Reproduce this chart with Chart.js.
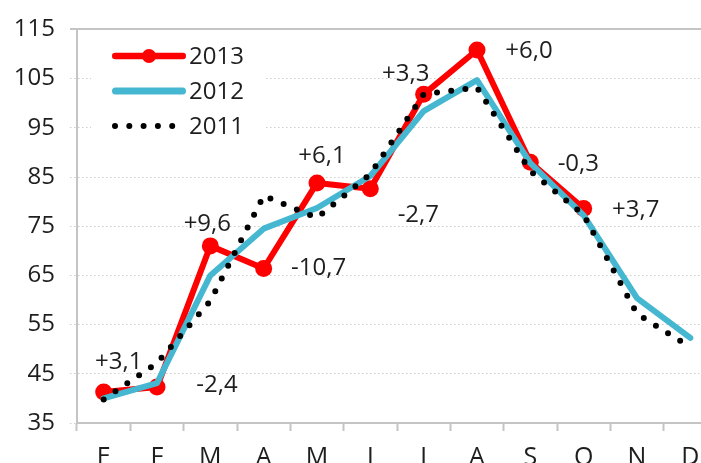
<!DOCTYPE html>
<html>
<head>
<meta charset="utf-8">
<script src="https://cdn.jsdelivr.net/npm/chart.js@4"></script>
<style>
  html, body { margin: 0; padding: 0; background: #fff; overflow: hidden; }
  #wrap { width: 730px; height: 480px; }
</style>
</head>
<body>
<div id="wrap"><canvas id="chart" width="730" height="480"></canvas></div>
<script>
/* ===============================
   DATA
================================ */
const months = ["E", "F", "M", "A", "M", "J", "J", "A", "S", "O", "N", "D"];
const y2013 = [41.3, 42.3, 71.0, 66.4, 83.8, 82.6, 101.8, 110.8, 88.0, 78.6];
const y2012 = [40.0, 43.1, 65.0, 74.5, 78.7, 85.2, 98.4, 104.7, 87.8, 77.2, 60.4, 52.3];
const y2011 = [39.8, 47.2, 59.8, 81.2, 76.7, 85.6, 101.8, 103.2, 86.2, 77.3, 57.2, 50.4];
const changes = ["+3,1", "-2,4", "+9,6", "-10,7", "+6,1", "-2,7", "+3,3", "+6,0", "-0,3", "+3,7"];
const yMin = 35, yMax = 115, yStep = 10;

// where each change label sits, relative to its 2013 point (px)
const labelOffsets = [[15, -30], [60, -2], [-3, -22], [55, 0], [5, -27],
                      [48, 26], [-18, -20], [52, 1], [48, 2], [52, 2]];

const FONT = "'Open Sans', 'Noto Sans', sans-serif";
const TEXT = "#1e1e1e";
const RED = "#ff0000";
const CYAN = "#46b7d0";
const DOTS = [0, 14.3];

/* ===============================
   PLUGINS
================================ */
const changeLabels = {
    id: "changeLabels",
    afterDatasetsDraw(chart) {
        const pts = chart.getDatasetMeta(0).data;
        const ctx = chart.ctx;
        ctx.save();
        ctx.font = "24px " + FONT;
        ctx.fillStyle = TEXT;
        ctx.textAlign = "center";
        ctx.textBaseline = "middle";
        changes.forEach((txt, i) => {
            const p = pts[i];
            if (!p) return;
            ctx.fillText(txt, p.x + labelOffsets[i][0], p.y + labelOffsets[i][1]);
        });
        ctx.restore();
    }
};

const boxLegend = {
    id: "boxLegend",
    beforeDatasetsDraw(chart) {
        const ctx = chart.ctx;
        ctx.save();
        ctx.fillStyle = "#fff";
        ctx.fillRect(91, 30, 174, 114);
        const rows = [56, 91, 126];
        chart.data.datasets.forEach((ds, i) => {
            const y = rows[i];
            ctx.beginPath();
            ctx.lineCap = "round";
            ctx.strokeStyle = ds.borderColor;
            ctx.lineWidth = ds.legendWidth;
            ctx.setLineDash(ds.borderDash || []);
            if (ds.borderDash) {
                ctx.moveTo(115, y);
                ctx.lineTo(174, y);
            } else {
                // round caps add half the width at each end
                ctx.moveTo(112 + ds.legendWidth / 2, y);
                ctx.lineTo(186 - ds.legendWidth / 2, y);
            }
            ctx.stroke();
            ctx.setLineDash([]);
            if (ds.pointRadius > 0) {
                ctx.beginPath();
                ctx.fillStyle = ds.pointBackgroundColor;
                ctx.arc(149, y, 7, 0, Math.PI * 2);
                ctx.fill();
            }
            ctx.font = "24px " + FONT;
            ctx.fillStyle = TEXT;
            ctx.textAlign = "left";
            ctx.textBaseline = "middle";
            ctx.fillText(ds.label, 189, y + 1);
        });
        ctx.restore();
    }
};

/* ===============================
   CHART
================================ */
const H = 480;
new Chart(document.getElementById("chart"), {
    type: "line",
    data: {
        labels: months,
        datasets: [
            {
                label: "2013",
                data: y2013,
                borderColor: RED,
                backgroundColor: RED,
                pointBackgroundColor: RED,
                pointBorderColor: RED,
                pointRadius: 8.5,
                pointBorderWidth: 0,
                borderWidth: 6,
                borderJoinStyle: "round",
                legendWidth: 6.5,
                order: 3
            },
            {
                label: "2012",
                data: y2012,
                borderColor: CYAN,
                backgroundColor: CYAN,
                pointRadius: 0,
                borderWidth: 6,
                borderJoinStyle: "round",
                borderCapStyle: "round",
                legendWidth: 7,
                order: 2
            },
            {
                label: "2011",
                data: y2011,
                borderColor: "#000",
                backgroundColor: "#000",
                pointRadius: 0,
                borderWidth: 6,
                borderDash: DOTS,
                borderCapStyle: "round",
                legendWidth: 6,
                order: 1
            }
        ]
    },
    options: {
        responsive: false,
        animation: false,
        devicePixelRatio: 1,
        layout: { padding: { left: 0, right: 13, top: 24, bottom: 0 } },
        plugins: { legend: { display: false }, tooltip: { enabled: false } },
        elements: { line: { tension: 0 } },
        scales: {
            x: {
                offset: true,
                grid: {
                    offset: true,
                    drawOnChartArea: false,
                    drawTicks: true,
                    tickLength: 8,
                    tickColor: "#c4c4c4",
                    tickWidth: 2
                },
                border: { color: "#c4c4c4", width: 2 },
                ticks: {
                    color: TEXT,
                    font: { family: FONT, size: 25 },
                    padding: 12,
                    maxRotation: 0,
                    autoSkip: false
                },
                afterFit(scale) { scale.height = H - 423; }
            },
            y: {
                min: yMin,
                max: yMax,
                grid: {
                    color: (c) => c.tick && c.tick.value === yMax ? "#c4c4c4" : "#cfcfcf",
                    lineWidth: (c) => c.tick && c.tick.value === yMax ? 2 : 1,
                    tickLength: 7,
                    tickBorderDash: (c) => c.tick && c.tick.value === yMax ? [] : [1.5, 2.5]
                },
                border: {
                    color: "#c4c4c4",
                    width: 2,
                    dash: (c) => c.tick && c.tick.value === yMax ? [] : [1.5, 2.5]
                },
                ticks: {
                    stepSize: yStep,
                    color: TEXT,
                    font: { family: FONT, size: 24 },
                    padding: 15
                },
                afterFit(scale) { scale.width = 77; }
            }
        }
    },
    plugins: [boxLegend, changeLabels]
});
</script>
</body>
</html>
